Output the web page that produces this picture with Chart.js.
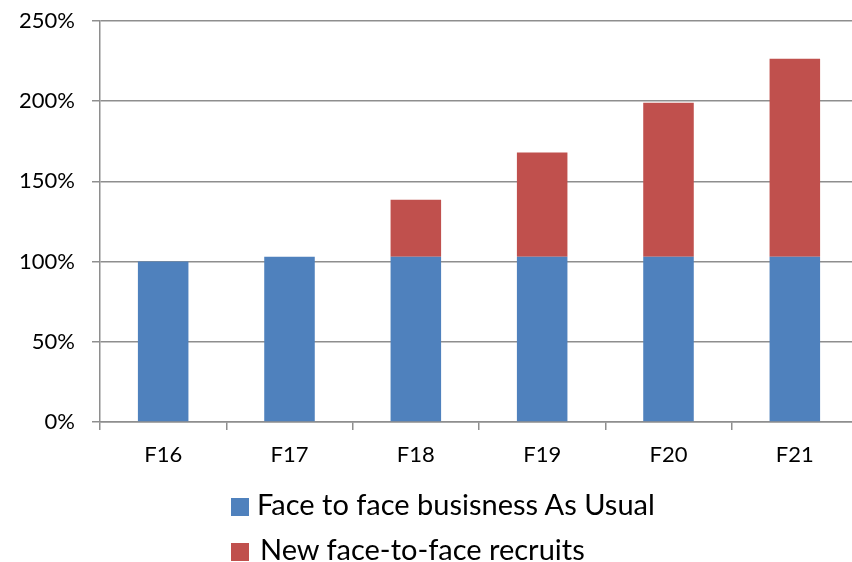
<!DOCTYPE html>
<html>
<head>
<meta charset="utf-8">
<script src="https://cdn.jsdelivr.net/npm/chart.js@4.4.1/dist/chart.umd.min.js"></script>
<style>
  html, body { margin: 0; padding: 0; background: #fff; }
  #wrap { position: relative; width: 852px; height: 562px; overflow: hidden; background: #fff; }
  #c { position: absolute; left: 0; top: 0; }
  .leg { position: absolute; font-family: Lato, "Noto Sans", sans-serif; font-size: 29px; color: #000; white-space: nowrap; line-height: 32px; }
  .sw { position: absolute; width: 18px; height: 18px; }
</style>
</head>
<body>
<div id="wrap">
  <canvas id="c" width="858" height="562"></canvas>
  <div class="sw" style="left:231px; top:498px; background:#4F81BD"></div>
  <div class="leg" id="l1" style="left:257px; top:488px;"></div>
  <div class="sw" style="left:231px; top:543px; background:#C0504D"></div>
  <div class="leg" id="l2" style="left:260px; top:533px;"></div>
</div>
<script>
const categories = ["F16", "F17", "F18", "F19", "F20", "F21"];
const seriesNames = ["Face to face busisness As Usual", "New face-to-face recruits"];
const businessAsUsual = [100, 103, 103, 103, 103, 103];
const newRecruits = [0, 0, 35.5, 65, 96, 123.5];
const yTicks = [0, 50, 100, 150, 200, 250];
const colors = ["#4F81BD", "#C0504D"];

document.getElementById("l1").textContent = seriesNames[0];
document.getElementById("l2").textContent = seriesNames[1];

const gridColor = "#8e8e8e";
const font = { family: "Lato, 'Noto Sans', sans-serif", size: 22 };

new Chart(document.getElementById("c"), {
  type: "bar",
  data: {
    labels: categories,
    datasets: [
      { label: seriesNames[0], data: businessAsUsual, backgroundColor: colors[0], borderWidth: 0, barPercentage: 0.4, categoryPercentage: 1 },
      { label: seriesNames[1], data: newRecruits, backgroundColor: colors[1], borderWidth: 0, barPercentage: 0.4, categoryPercentage: 1 }
    ]
  },
  options: {
    responsive: false,
    animation: false,
    layout: { padding: { top: 21, right: 0, left: 0, bottom: 0 } },
    plugins: { legend: { display: false }, tooltip: { enabled: false } },
    scales: {
      x: {
        stacked: true,
        grid: { display: true, drawOnChartArea: false, drawTicks: true, tickLength: 8, color: gridColor, lineWidth: 1.5, offset: true },
        border: { display: true, color: gridColor, width: 1.5 },
        ticks: { color: "#000", font: font, padding: 12, maxRotation: 0 },
        afterFit: function (s) { s.height = 140; s.paddingLeft = 0; s.paddingRight = 0; }
      },
      y: {
        stacked: true,
        min: 0,
        max: 250,
        afterBuildTicks: function (s) { s.ticks = yTicks.map(v => ({ value: v })); },
        grid: { color: gridColor, lineWidth: 1.5, tickLength: 8, drawTicks: true },
        border: { display: true, color: gridColor, width: 1.5 },
        ticks: { color: "#000", font: font, padding: 17, callback: v => v + "%" },
        afterFit: function (s) { s.width = 100; s.paddingTop = 0; s.paddingBottom = 0; }
      }
    }
  }
});
</script>
</body>
</html>
